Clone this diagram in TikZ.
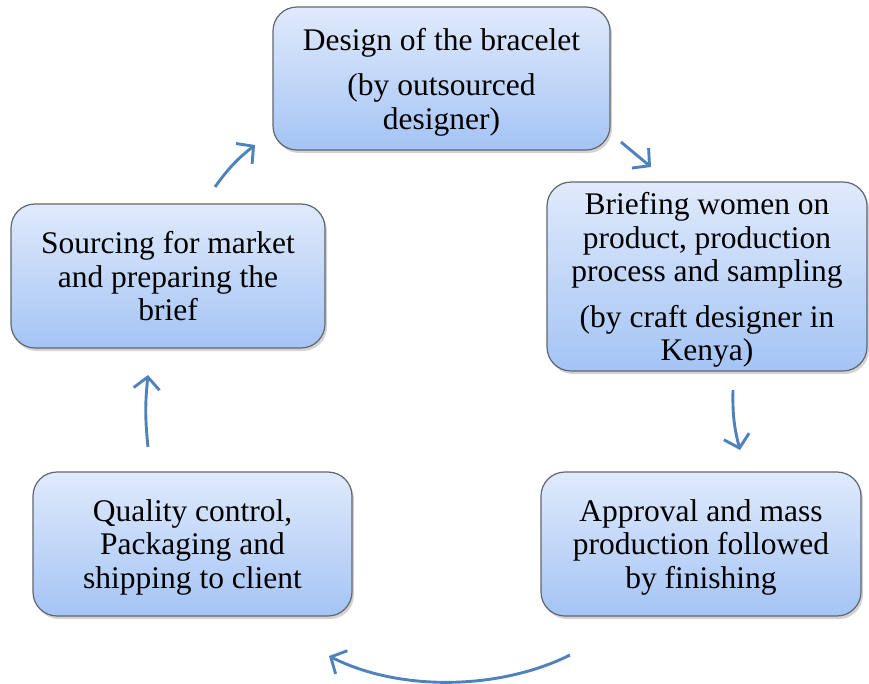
\documentclass[tikz,border=0pt]{standalone}
\usepackage{fontspec}
\setmainfont{Liberation Serif}
\usetikzlibrary{arrows.meta,shadows}
\definecolor{boxtop}{RGB}{224,234,251}
\definecolor{boxbottom}{RGB}{164,196,244}
\definecolor{boxline}{RGB}{96,102,112}
\definecolor{flow}{RGB}{79,129,189}
\begin{document}
\begin{tikzpicture}[x=1pt,y=-1pt,
  stagebox/.style={draw=boxline, line width=1.2pt, rounded corners=24pt,
    top color=boxtop, bottom color=boxbottom,
    drop shadow={opacity=0.35, shadow xshift=2pt, shadow yshift=-3pt},
    align=center, inner sep=4pt, text depth=0pt,
    font=\fontsize{31.5}{33.5}\selectfont},
  flowarrow/.style={draw=flow, line width=2.9pt,
    -{Straight Barb[length=12pt,width=26pt]}}
]
\useasboundingbox (0,0) rectangle (869,683);

% process stages
\node[stagebox, minimum width=337pt, minimum height=143pt] (design) at (441.5,78.5)
  {Design of the bracelet\\[12pt](by outsourced\\designer)};
\node[stagebox, minimum width=320pt, minimum height=189pt] (brief) at (707,276.5)
  {Briefing women on\\product, production\\process and sampling\\[12pt](by craft designer in\\Kenya)};
\node[stagebox, minimum width=320pt, minimum height=144pt] (mass) at (701,544)
  {Approval and mass\\production followed\\by finishing};
\node[stagebox, minimum width=319pt, minimum height=144pt] (qc) at (192.5,544)
  {Quality control,\\Packaging and\\shipping to client};
\node[stagebox, minimum width=314pt, minimum height=144pt] (source) at (168,276)
  {Sourcing for market\\and preparing the\\brief};

% arrow end points between the stages
\coordinate (a1s) at (215,187);  \coordinate (a1e) at (255,145);
\coordinate (a2s) at (621,142);  \coordinate (a2e) at (651,167);
\coordinate (a3s) at (733,390);  \coordinate (a3e) at (740,450);
\coordinate (a4s) at (570,655);  \coordinate (a4e) at (329,656);
\coordinate (a5s) at (148,447);  \coordinate (a5e) at (148,375);

% cycle arrows
\draw[flowarrow] (a1s) to[bend left=8] (a1e);
\draw[flowarrow] (a2s) to (a2e);
\draw[flowarrow] (a3s) to[bend right=8] (a3e);
\draw[flowarrow] (a4s) .. controls (500,690) and (400,692) .. (a4e);
\draw[flowarrow] (a5s) to[bend left=6] (a5e);
\end{tikzpicture}
\end{document}
